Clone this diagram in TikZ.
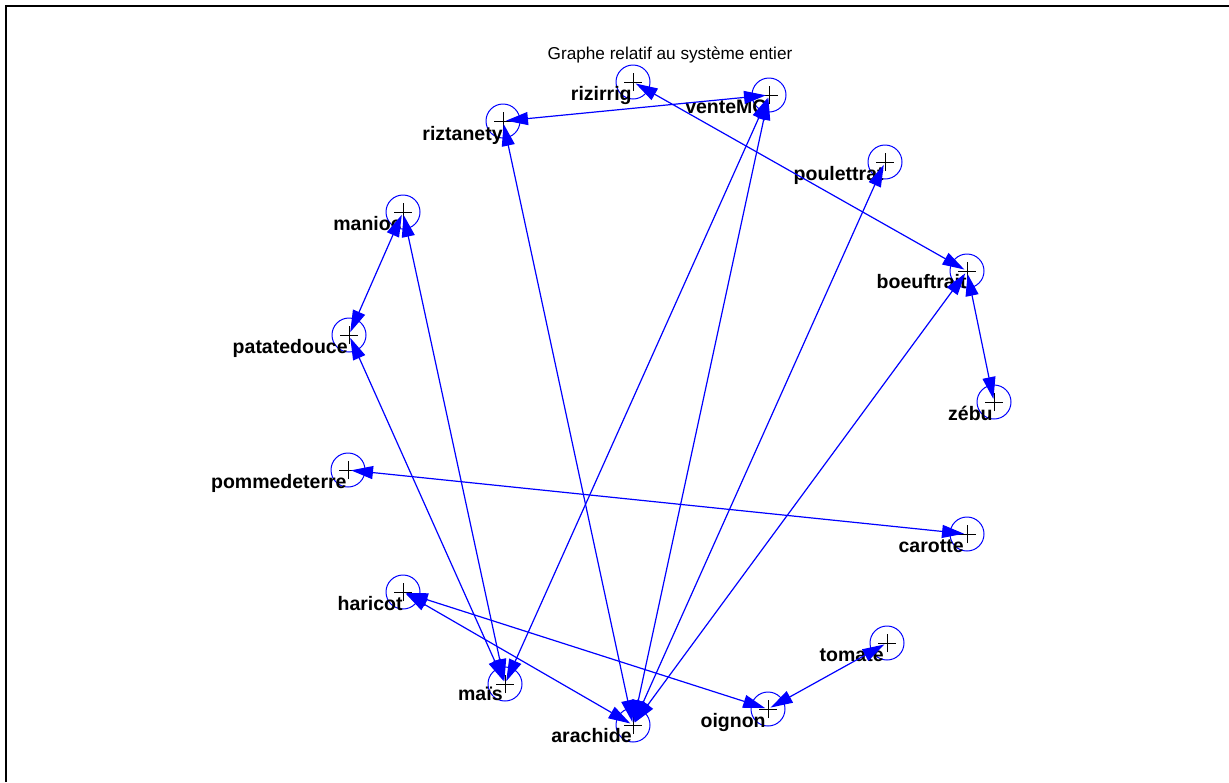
\documentclass[tikz,border=0pt]{standalone}
\usepackage{fontspec}
\setmainfont{Liberation Sans}
\usepackage{tikz}
\usetikzlibrary{arrows.meta}

\tikzset{
  vtx/.style={circle, draw=blue, line width=0.5pt, minimum size=17pt, inner sep=0pt,
    path picture={\draw[black, line width=0.5pt]
      ([xshift=-4.5pt]path picture bounding box.center) -- ([xshift=4.5pt]path picture bounding box.center)
      ([yshift=-4.5pt]path picture bounding box.center) -- ([yshift=4.5pt]path picture bounding box.center);}},
  lbl/.style={anchor=base east, inner sep=0pt, font=\fontsize{9.75}{11}\selectfont\bfseries},
  link/.style={blue, line width=0.6pt, arrows={Triangle[length=11pt,width=6.5pt]-Triangle[length=11pt,width=6.5pt]}, shorten <=1.5pt, shorten >=1.5pt}
}

\begin{document}
\begin{tikzpicture}[x=0.5pt,y=-0.5pt]
       \useasboundingbox (0,0) rectangle (1229,782);
       \draw[line width=1pt] (6,782) -- (6,6) -- (1229,6);

       \node(title)[font=\fontsize{8.6}{10}\selectfont] at (670,55) {Graphe relatif au système entier};

       \node[vtx](rizirrig) at (633,82) {};
       \node(Nrizirrig)[lbl] at (632,100) {rizirrig};

       \node[vtx](venteMO) at (769,95) {};
       \node(NventeMO)[lbl] at (768,113) {venteMO};

       \node[vtx](riztanety) at (503,121) {};
       \node(Nriztanety)[lbl] at (503,140) {riztanety};

       \node[vtx](poulettrat) at (885,162) {};
       \node(Npoulettrat)[lbl] at (884,180) {poulettrat};

       \node[vtx](manioc) at (403,212) {};
       \node(Nmanioc)[lbl] at (402,230) {manioc};

       \node[vtx](boeuftrait) at (967,271) {};
       \node(Nboeuftrait)[lbl] at (967,288) {boeuftrait};

       \node[vtx](patatedouce) at (349,335) {};
       \node(Npatatedouce)[lbl] at (348,353) {patatedouce};

       \node[vtx](zebu) at (994,402) {};
       \node(Nzebu)[lbl] at (993,420) {zébu};

       \node[vtx](pommedeterre) at (348,470) {};
       \node(Npommedeterre)[lbl] at (347,488) {pommedeterre};

       \node[vtx](carotte) at (967,534) {};
       \node(Ncarotte)[lbl] at (964,552) {carotte};

       \node[vtx](haricot) at (403,592) {};
       \node(Nharicot)[lbl] at (403,610) {haricot};

       \node[vtx](tomate) at (887,643) {};
       \node(Ntomate)[lbl] at (884,661) {tomate};

       \node[vtx](mais) at (505,684) {};
       \node(Nmais)[lbl] at (503,700) {maïs};

       \node[vtx](oignon) at (768,709) {};
       \node(Noignon)[lbl] at (766,727) {oignon};

       \node[vtx](arachide) at (633,725) {};
       \node(Narachide)[lbl] at (632,742) {arachide};

       \draw[link] (riztanety.center) -- (venteMO.center);
       \draw[link] (rizirrig.center) -- (boeuftrait.center);
       \draw[link] (riztanety.center) -- (arachide.center);
       \draw[link] (venteMO.center) -- (mais.center);
       \draw[link] (venteMO.center) -- (arachide.center);
       \draw[link] (poulettrat.center) -- (arachide.center);
       \draw[link] (boeuftrait.center) -- (arachide.center);
       \draw[link] (boeuftrait.center) -- (zebu.center);
       \draw[link] (manioc.center) -- (patatedouce.center);
       \draw[link] (manioc.center) -- (mais.center);
       \draw[link] (patatedouce.center) -- (mais.center);
       \draw[link] (pommedeterre.center) -- (carotte.center);
       \draw[link] (haricot.center) -- (oignon.center);
       \draw[link] (haricot.center) -- (arachide.center);
       \draw[link] (tomate.center) -- (oignon.center);
\end{tikzpicture}
\end{document}
